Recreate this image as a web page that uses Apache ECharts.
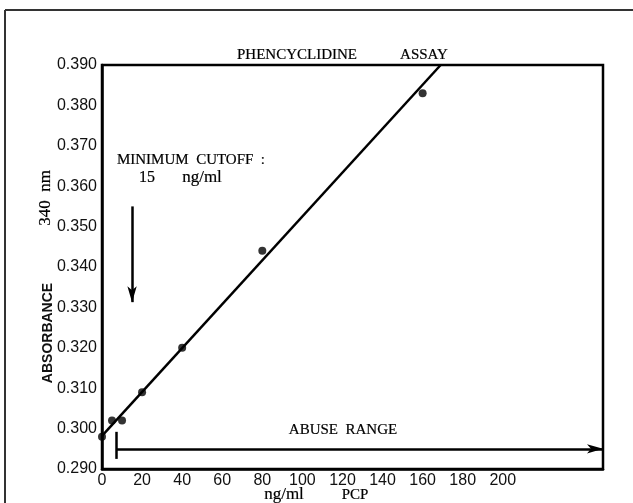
<!DOCTYPE html>
<html>
<head>
<meta charset="utf-8">
<script src="https://cdn.jsdelivr.net/npm/echarts@6/dist/echarts.min.js"></script>
<style>
  html, body { margin: 0; padding: 0; background: #fff; }
  #chart { width: 633px; height: 503px; }
</style>
</head>
<body>
<div id="chart"></div>
<script>
// measured points (ng/ml PCP, absorbance at 340 nm)
const pcpDose = [0, 5, 10, 20, 40, 80, 160];
const absorbance = [0.298, 0.302, 0.302, 0.309, 0.320, 0.344, 0.383];

// fitted straight line
const fitDose = [0, 169];
const fitAbs = [0.2982, 0.390];

// tick values shown on the axes
const xTicks = [0, 20, 40, 60, 80, 100, 120, 140, 160, 180, 200];

// annotation arrows (data coords)
const cutoffDose = 15;
const cutoffArrow = [0.355, 0.3313];
const abuseStart = 7;
const abuseLevel = 0.295;
const abuseBar = [0.2992, 0.2925];

const ink = '#000';
const serif = '"Liberation Serif", "DejaVu Serif", serif';
const sans = '"Liberation Sans", Arial, sans-serif';

const chart = echarts.init(document.getElementById('chart'));

// serif captions get a hairline stroke so they look as heavy as the scan
const caption = (x, y, text, size, extra) => Object.assign({
  type: 'text', x: x, y: y,
  style: {
    text: text, font: size + 'px ' + serif, fill: ink,
    stroke: ink, lineWidth: 0.2,
    textAlign: 'center', textVerticalAlign: 'middle'
  }
}, extra || {});

chart.setOption({
  backgroundColor: '#fff',
  animation: false,
  grid: {
    left: 102, right: 30, top: 65, bottom: 34,
    show: true, borderColor: ink, borderWidth: 2.5
  },
  xAxis: {
    type: 'value', min: 0, max: 250, interval: 20,
    axisLine: { show: true, lineStyle: { color: ink, width: 2.5 } },
    axisTick: { show: false },
    splitLine: { show: false },
    axisLabel: {
      color: '#111', fontFamily: sans, fontSize: 16, margin: 4,
      formatter: v => (xTicks.indexOf(v) >= 0 ? String(v) : '')
    }
  },
  yAxis: {
    type: 'value', min: 0.29, max: 0.39, interval: 0.01,
    axisLine: { show: true, lineStyle: { color: ink, width: 2.5 } },
    axisTick: { show: false },
    splitLine: { show: false },
    axisLabel: {
      color: '#111', fontFamily: sans, fontSize: 16, margin: 5,
      formatter: v => v.toFixed(3)
    }
  },
  series: [
    {
      type: 'line',
      data: fitDose.map((d, i) => [d, fitAbs[i]]),
      showSymbol: false,
      lineStyle: { color: ink, width: 2.5 },
      z: 2
    },
    {
      type: 'scatter',
      data: pcpDose.map((d, i) => [d, absorbance[i]]),
      symbolSize: 8,
      itemStyle: { color: ink },
      z: 3,
      markLine: {
        silent: true,
        symbol: ['none', 'arrow'],
        symbolSize: [7, 16],
        label: { show: false },
        lineStyle: { color: ink, width: 2.5, type: 'solid' },
        data: [
          [{ coord: [cutoffDose, cutoffArrow[0]] }, { coord: [cutoffDose, cutoffArrow[1]] }],
          [{ coord: [abuseStart, abuseLevel] }, { coord: [250, abuseLevel] }],
          [{ coord: [abuseStart, abuseBar[0]], symbol: 'none' }, { coord: [abuseStart, abuseBar[1]], symbol: 'none' }]
        ]
      }
    }
  ],
  graphic: [
    { type: 'line', shape: { x1: 5, y1: 10, x2: 633, y2: 10 }, style: { stroke: '#333', lineWidth: 2 } },
    { type: 'line', shape: { x1: 5, y1: 10, x2: 5, y2: 503 }, style: { stroke: '#333', lineWidth: 2 } },
    caption(297, 55, 'PHENCYCLIDINE', 15),
    caption(424, 55, 'ASSAY', 15),
    caption(191, 160, 'MINIMUM  CUTOFF  :', 15),
    caption(147, 178, '15', 16),
    caption(202, 178, 'ng/ml', 17),
    caption(343, 430, 'ABUSE  RANGE', 15),
    caption(284, 495, 'ng/ml', 17),
    caption(355, 495, 'PCP', 15),
    caption(46, 198, '340  nm', 17, { rotation: Math.PI / 2 }),
    { type: 'text', x: 48, y: 333, rotation: Math.PI / 2, style: { text: 'ABSORBANCE', font: 'bold 14px ' + sans, fill: '#111', textAlign: 'center', textVerticalAlign: 'middle' } }
  ]
});
</script>
</body>
</html>
